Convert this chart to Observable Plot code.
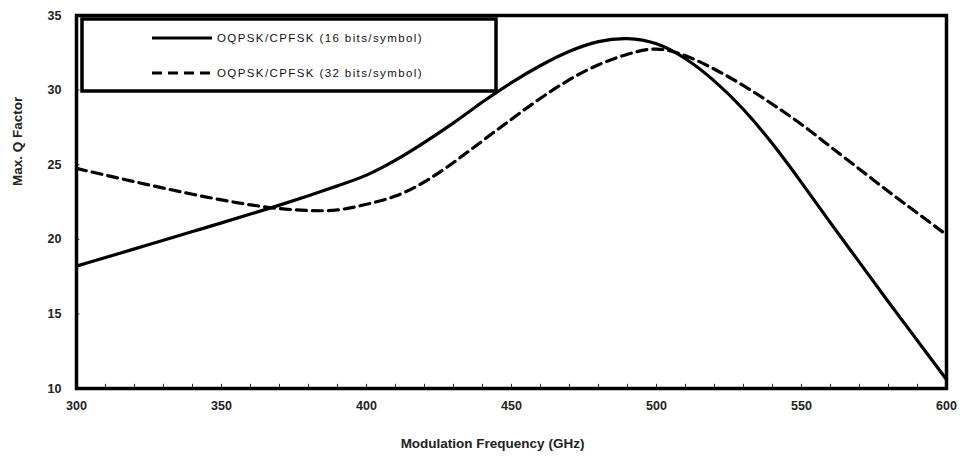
<!DOCTYPE html>
<html>
<head>
<meta charset="utf-8">
<script src="https://cdn.jsdelivr.net/npm/d3@7"></script>
<script src="https://cdn.jsdelivr.net/npm/@observablehq/plot@0.6"></script>
<style>
  html, body { margin: 0; padding: 0; background: #fff; }
  #chart { width: 961px; height: 459px; }
  svg { font-family: "Liberation Sans", Arial, sans-serif; }
</style>
</head>
<body>
<div id="chart"></div>
<script>
// ---- data ----
const freq = [300,310,320,330,340,350,360,370,380,390,400,410,420,430,440,450,460,470,480,490,500,510,520,530,540,550,560,570,580,590,600];
const q16  = [18.2,18.78,19.36,19.94,20.52,21.1,21.69,22.29,22.92,23.58,24.3,25.3,26.5,27.8,29.2,30.5,31.65,32.6,33.25,33.45,33.1,32.1,30.6,28.7,26.4,23.8,21.1,18.45,15.8,13.2,10.6];
const q32  = [24.75,24.3,23.86,23.43,23.02,22.64,22.31,22.06,21.93,21.97,22.35,22.9,23.85,25.15,26.6,28.05,29.45,30.7,31.7,32.4,32.75,32.3,31.4,30.3,29.05,27.7,26.2,24.7,23.2,21.75,20.3];
const seriesNames = ["OQPSK/CPFSK (16 bits/symbol)", "OQPSK/CPFSK (32 bits/symbol)"];
const xTicks = [300,350,400,450,500,550,600];
const xMinorTicks = d3.range(300, 601, 10);
const yTicks = [10,15,20,25,30,35];
const xLabel = "Modulation Frequency (GHz)";
const yLabel = "Max. Q Factor";

const rows16 = freq.map((f, i) => ({f, q: q16[i]}));
const rows32 = freq.map((f, i) => ({f, q: q32[i]}));

const W = 961, H = 459;
const mL = 76, mR = 15, mT = 15, mB = 71;

function legendMark() {
  const g = d3.create("svg:g");
  g.append("rect")
    .attr("x", 82).attr("y", 19).attr("width", 414).attr("height", 72)
    .attr("fill", "white").attr("stroke", "black").attr("stroke-width", 3.5);
  const items = [
    {y: 38, dash: null},
    {y: 73, dash: "10,6"}
  ];
  items.forEach((it, i) => {
    g.append("line")
      .attr("x1", 152).attr("x2", 212).attr("y1", it.y).attr("y2", it.y)
      .attr("stroke", "black").attr("stroke-width", 3)
      .attr("stroke-dasharray", it.dash);
    g.append("text")
      .attr("x", 217).attr("y", it.y).attr("dy", "0.35em")
      .attr("text-anchor", "start")
      .attr("font-size", 11.5).attr("letter-spacing", "1.4px")
      .attr("fill", "#111")
      .text(seriesNames[i]);
  });
  return g.node();
}

const chart = Plot.plot({
  width: W, height: H,
  marginLeft: mL, marginRight: mR, marginTop: mT, marginBottom: mB,
  style: {fontFamily: "'Liberation Sans', Arial, sans-serif", background: "white"},
  x: {domain: [300, 600], ticks: xTicks, tickSize: 0, tickPadding: 13, label: null},
  y: {domain: [10, 35], ticks: yTicks, tickSize: 0, tickPadding: 15, label: null},
  marks: [
    Plot.axisX({ticks: xTicks, tickSize: 0, tickPadding: 13, label: null, fontSize: 12.5, fontWeight: "bold", fill: "#222"}),
    Plot.axisY({ticks: yTicks, tickSize: 0, tickPadding: 15, label: null, fontSize: 12.5, fontWeight: "bold", fill: "#222"}),
    Plot.ruleX(xMinorTicks, {x: d => d, y1: 10, y2: 10.28, stroke: "#333", strokeWidth: 1}),
    Plot.ruleY(yTicks, {y: d => d, x1: 300, x2: 301.2, stroke: "#333", strokeWidth: 1}),
    Plot.line(rows32, {x: "f", y: "q", curve: "natural", stroke: "black", strokeWidth: 3.2, strokeDasharray: "10,6"}),
    Plot.line(rows16, {x: "f", y: "q", curve: "natural", stroke: "black", strokeWidth: 3.2}),
    legendMark,
    Plot.frame({stroke: "black", strokeWidth: 3.5}),
    Plot.text([xLabel], {frameAnchor: "bottom", dx: -19, dy: 59, fontSize: 13.5, fontWeight: "bold", fill: "#222", text: d => d}),
    Plot.text([yLabel], {frameAnchor: "left", dx: -59, dy: -16, rotate: -90, fontSize: 13.5, fontWeight: "bold", fill: "#222", text: d => d})
  ]
});
document.getElementById("chart").appendChild(chart);
</script>
</body>
</html>
